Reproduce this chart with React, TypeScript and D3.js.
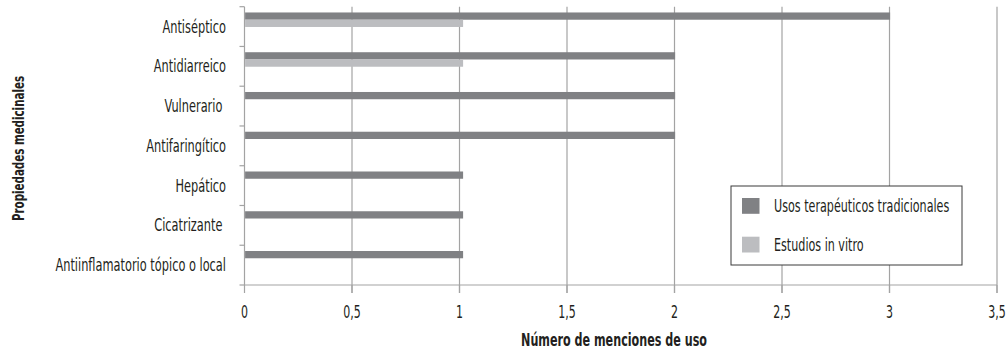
import React from "react";
import * as d3 from "d3";

const categories = [
  "Antiséptico",
  "Antidiarreico",
  "Vulnerario ",
  "Antifaringítico",
  "Hepático",
  "Cicatrizante ",
  "Antiinflamatorio tópico o local",
];
const seriesNames = ["Usos terapéuticos tradicionales", "Estudios in vitro"];
const usosTradicionales = [3, 2, 2, 2, 1, 1, 1];
const estudiosInVitro = [1, 1, 0, 0, 0, 0, 0];
const xTicks = [0, 0.5, 1, 1.5, 2, 2.5, 3, 3.5];
const seriesColors = ["#808184", "#bcbdc0"];

const W = 1007;
const H = 353;
const FONT = "'Liberation Sans Narrow', 'DejaVu Sans Condensed', 'Arial Narrow', sans-serif";
const GRID = "#a3a3a3";
const INK = "#231f20";

function T({ x, y, anchor = "start", size = 17, bold = false, rotate = 0, sx = 0.744, children }: any) {
  return (
    <text
      transform={`translate(${x},${y}) rotate(${rotate}) scale(${sx},1)`}
      dy="0.35em"
      textAnchor={anchor}
      fontSize={size}
      fontWeight={bold ? "bold" : "normal"}
      fill={INK}
      style={{ whiteSpace: "pre" }}
    >
      {children}
    </text>
  );
}

export default function App() {
  const x = d3.scaleLinear().domain([0, 3.5]).range([244.5, 997]);
  const y = d3.scaleBand<string>().domain(categories).range([6.7, 285]).paddingInner(0).paddingOuter(0);
  const bw = y.bandwidth();
  const sub = d3.scaleBand<string>().domain(seriesNames).range([0.145 * bw, 0.51 * bw]).padding(0);
  const seriesValues = [usosTradicionales, estudiosInVitro];
  const fmt = (v: number) => String(v).replace(".", ",");
  const [y0, y1] = y.range();
  const bounds = categories.map((c) => y(c) as number).concat([y1]);

  return (
    <svg width={W} height={H} style={{ position: "absolute", left: 0, top: 0, background: "#fff" }} fontFamily={FONT}>
      {/* gridlines */}
      {xTicks.map((t) => (
        <line key={"g" + t} x1={x(t)} x2={x(t)} y1={y0} y2={t === 0 ? y1 : y1 + 8} stroke={GRID} strokeWidth={1.2} />
      ))}
      {/* x axis */}
      <line x1={x(0)} x2={x(3.5)} y1={y1} y2={y1} stroke={GRID} strokeWidth={1.2} />
      {xTicks.map((t) => (
        <line key={"xt" + t} x1={x(t)} x2={x(t)} y1={y1} y2={y1 + 8} stroke={GRID} strokeWidth={1.2} />
      ))}
      {/* y axis ticks */}
      {bounds.map((b, i) => (
        <line key={"yt" + i} x1={x(0) - 5} x2={x(0)} y1={b} y2={b} stroke={GRID} strokeWidth={1.2} />
      ))}
      {/* bars */}
      {seriesValues.map((vals, si) =>
        vals.map((v, i) =>
          v > 0 ? (
            <rect
              key={"b" + si + "-" + i}
              x={x(0) + 0.6}
              y={(y(categories[i]) as number) + (sub(seriesNames[si]) as number)}
              width={x(v) - x(0) + (v < 1.5 ? 3 : 0)}
              height={sub.bandwidth()}
              fill={seriesColors[si]}
            />
          ) : null
        )
      )}
      {/* category labels */}
      {categories.map((c) => (
        <T key={"c" + c} x={226} y={(y(c) as number) + bw / 2} anchor="end">
          {c}
        </T>
      ))}
      {/* x tick labels */}
      {xTicks.map((t) => (
        <T key={"xl" + t} x={x(t)} y={312} anchor="middle" sx={0.72}>
          {fmt(t)}
        </T>
      ))}
      {/* axis titles */}
      <T x={614} y={340} anchor="middle" size={17.5} bold sx={0.709}>
        Número de menciones de uso
      </T>
      <T x={19} y={148.5} anchor="middle" size={15} bold rotate={-90} sx={0.764}>
        Propiedades medicinales
      </T>
      {/* legend */}
      <rect x={731} y={186} width={231} height={79} fill="#fff" stroke="#3a3a3a" strokeWidth={1} />
      {seriesNames.map((s, i) => (
        <g key={"l" + s}>
          <rect x={742} y={198 + i * 38.7} width={17.5} height={15.8} fill={seriesColors[i]} />
          <T x={774} y={206 + i * 38.7} size={17.5} sx={0.709}>
            {s}
          </T>
        </g>
      ))}
    </svg>
  );
}
